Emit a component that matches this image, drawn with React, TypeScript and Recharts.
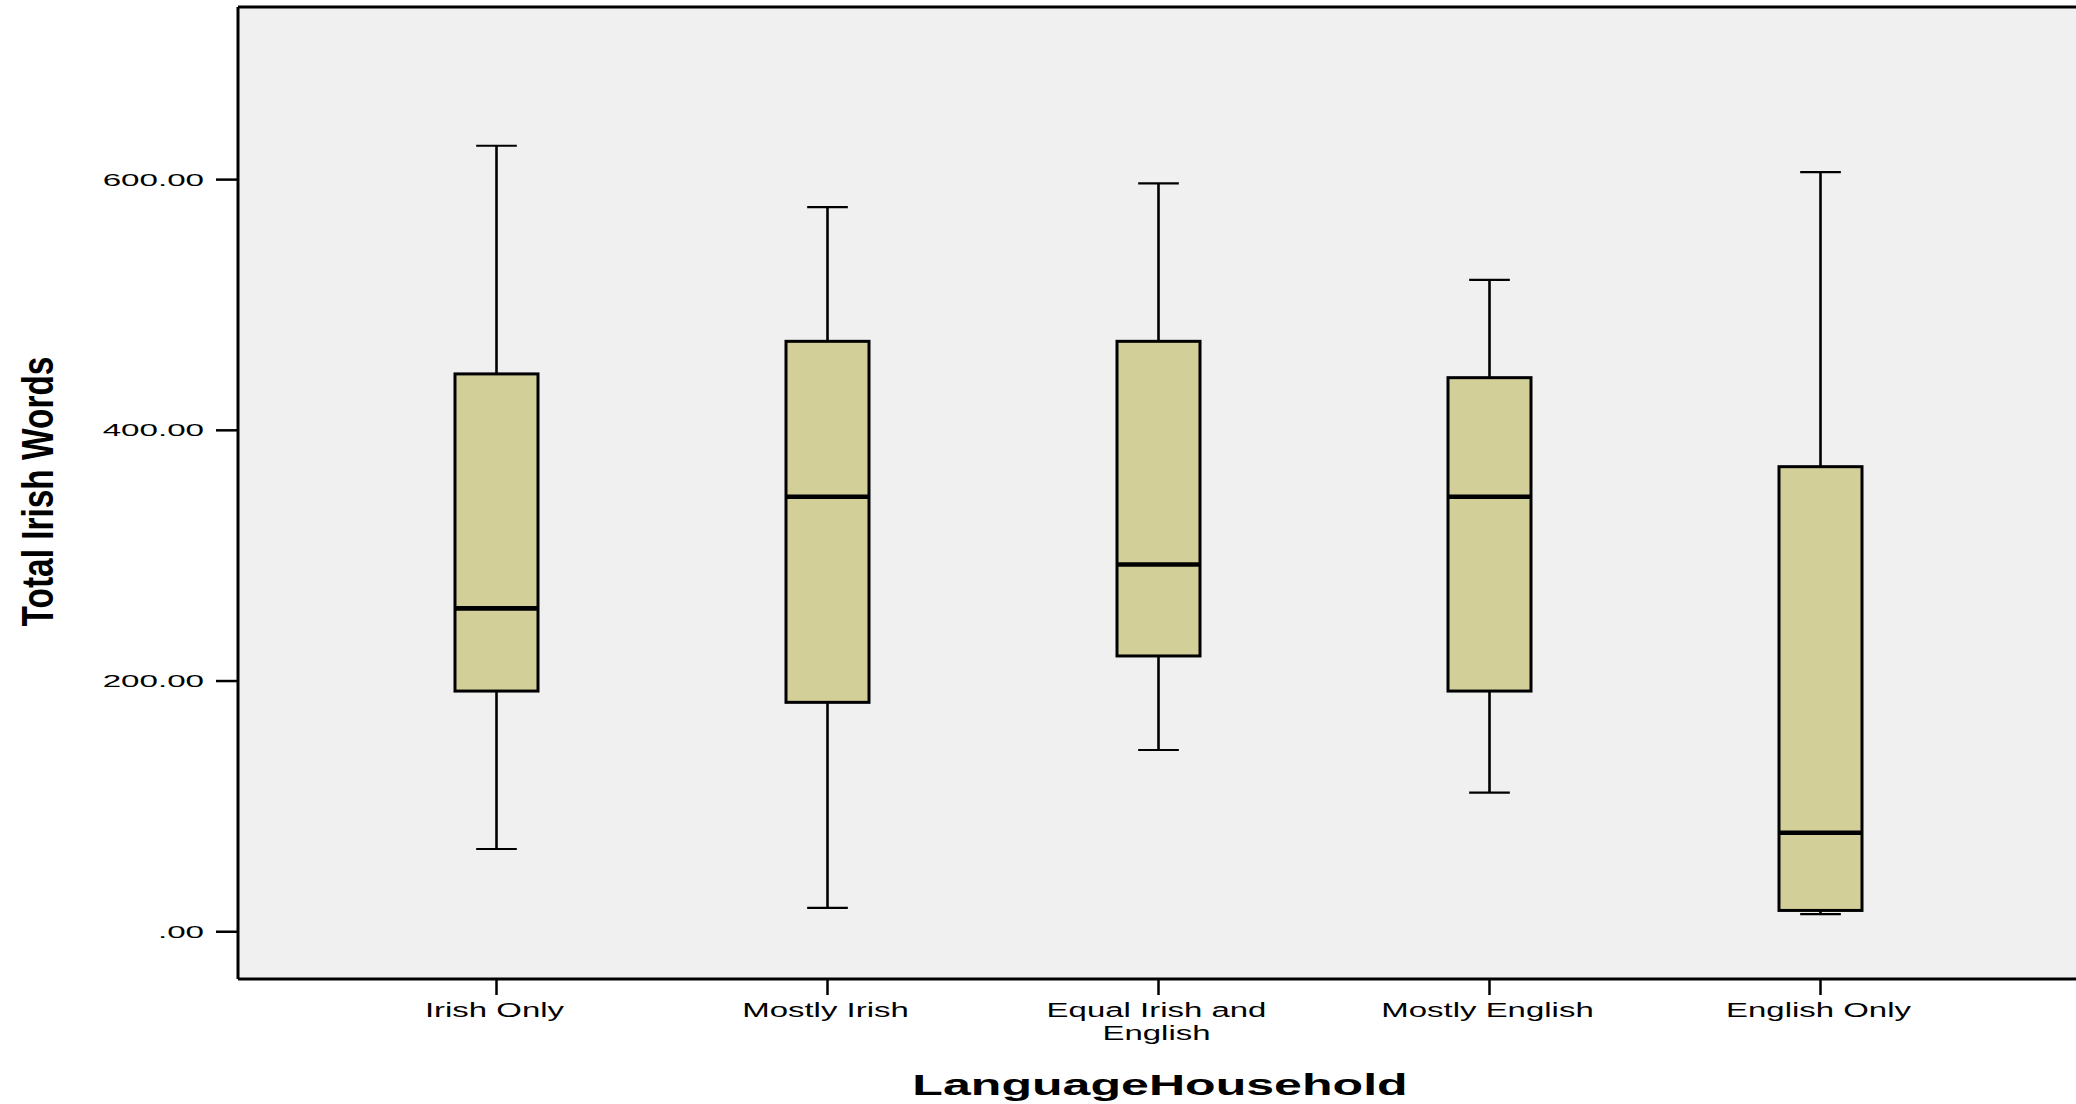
import React from 'react'
import { ComposedChart, Bar, XAxis, YAxis, CartesianGrid } from 'recharts'

// box plot values (Total Irish Words by household language)
const categories = ['Irish Only', 'Mostly Irish', 'Equal Irish and English', 'Mostly English', 'English Only']
const minValues = [66, 19, 145, 111, 14]
const q1Values = [192, 183, 220, 192, 17]
const medianValues = [258, 347, 293, 347, 79]
const q3Values = [445, 471, 471, 442, 371]
const maxValues = [627, 578, 597, 520, 606]
const yTicks = [0, 200, 400, 600]

const data = categories.map((name, i) => ({
  name,
  range: [minValues[i], maxValues[i]],
  min: minValues[i],
  q1: q1Values[i],
  median: medianValues[i],
  q3: q3Values[i],
  max: maxValues[i],
}))

const FONT = '"Liberation Sans", Arial, sans-serif'
const BOX_FILL = '#D3CF98'

function BoxShape(props: any) {
  const { x, y, width, height, payload } = props
  if (!payload) return null
  const top = Math.min(y, y + height)
  const bottom = Math.max(y, y + height)
  const lo = payload.min
  const hi = payload.max
  // map a value onto the bar's own scaled extent (min..max)
  const toY = (v: number) => top + ((hi - v) / (hi - lo)) * (bottom - top)
  const cx = x + width / 2
  const capHalf = width * 0.245
  const yMax = toY(payload.max)
  const yQ3 = toY(payload.q3)
  const yMed = toY(payload.median)
  const yQ1 = toY(payload.q1)
  const yMin = toY(payload.min)
  return (
    <g>
      <line x1={cx} x2={cx} y1={yMax} y2={yQ3} stroke="#000" strokeWidth={2.6} />
      <line x1={cx} x2={cx} y1={yQ1} y2={yMin} stroke="#000" strokeWidth={2.6} />
      <line x1={cx - capHalf} x2={cx + capHalf} y1={yMax} y2={yMax} stroke="#000" strokeWidth={2.2} />
      <line x1={cx - capHalf} x2={cx + capHalf} y1={yMin} y2={yMin} stroke="#000" strokeWidth={2.2} />
      <rect x={x} y={yQ3} width={width} height={yQ1 - yQ3} fill={BOX_FILL} stroke="#000" strokeWidth={3} />
      <line x1={x} x2={x + width} y1={yMed} y2={yMed} stroke="#000" strokeWidth={4.6} />
    </g>
  )
}

function wrapWords(text: string, maxChars: number) {
  const lines: string[] = []
  let cur = ''
  text.split(' ').forEach((w) => {
    const next = cur ? cur + ' ' + w : w
    if (next.length > maxChars && cur) {
      lines.push(cur)
      cur = w
    } else {
      cur = next
    }
  })
  if (cur) lines.push(cur)
  return lines
}

function XTick(props: any) {
  const { x, y, payload } = props
  const lines = wrapWords(String(payload.value), 15)
  return (
    <g transform={`translate(${x - 2},${y}) scale(1.57,1)`}>
      <text textAnchor="middle" fontFamily={FONT} fontSize={21} fill="#000">
        {lines.map((l, i) => (
          <tspan key={i} x={0} y={21.7 + i * 23.3}>{l}</tspan>
        ))}
      </text>
    </g>
  )
}

function YTick(props: any) {
  const { x, y, payload } = props
  const v = Number(payload.value)
  const label = v === 0 ? '.00' : v.toFixed(2)
  return (
    <g transform={`translate(${x},${y}) scale(1.95,1)`}>
      <text textAnchor="end" dy={6} fontFamily={FONT} fontSize={17} fill="#000">{label}</text>
    </g>
  )
}

function XTitle(props: any) {
  const vb = props.viewBox || { x: 238, y: 979, width: 1838, height: 125 }
  const cx = vb.x + vb.width / 2 + 3
  return (
    <g transform={`translate(${cx},${vb.y + 116}) scale(1.67,1)`}>
      <text textAnchor="middle" fontFamily={FONT} fontWeight="bold" fontSize={30} fill="#000">LanguageHousehold</text>
    </g>
  )
}

function YTitle(props: any) {
  const vb = props.viewBox || { x: 0, y: 7, width: 238, height: 972 }
  const cy = vb.y + vb.height / 2 - 1.5
  return (
    <g transform={`translate(${vb.x + 53},${cy}) rotate(-90) scale(0.76,1)`}>
      <text textAnchor="middle" fontFamily={FONT} fontWeight="bold" fontSize={44} fill="#000">
        Total Irish Words
      </text>
    </g>
  )
}

export default function App() {
  return (
    <div style={{ position: 'absolute', left: 0, top: 0, width: 2076, height: 1104, background: '#fff' }}>
      <ComposedChart width={2076} height={1104} data={data} margin={{ top: 6, right: 0, bottom: 0, left: 0 }}>
        <CartesianGrid horizontal={false} vertical={false} fill="#F0F0F0" />
        <XAxis
          xAxisId="top"
          orientation="top"
          dataKey="name"
          height={1}
          tick={false}
          tickLine={false}
          axisLine={{ stroke: '#000', strokeWidth: 3 }}
        />
        <XAxis
          dataKey="name"
          height={125}
          interval={0}
          padding={{ left: 93, right: 90 }}
          tickSize={16}
          tickMargin={0}
          tick={(p: any) => <XTick {...p} />}
          tickLine={{ stroke: '#000', strokeWidth: 2.5 }}
          axisLine={{ stroke: '#000', strokeWidth: 3 }}
          label={(p: any) => <XTitle {...p} />}
        />
        <YAxis
          width={238}
          domain={[-37.7, 737.7]}
          ticks={yTicks}
          allowDataOverflow
          tickSize={22}
          tickMargin={12}
          tick={(p: any) => <YTick {...p} />}
          tickLine={{ stroke: '#000', strokeWidth: 2.5 }}
          axisLine={{ stroke: '#000', strokeWidth: 3 }}
          label={(p: any) => <YTitle {...p} />}
        />
        <Bar dataKey="range" barSize={83} shape={(p: any) => <BoxShape {...p} />} isAnimationActive={false} />
      </ComposedChart>
    </div>
  )
}
